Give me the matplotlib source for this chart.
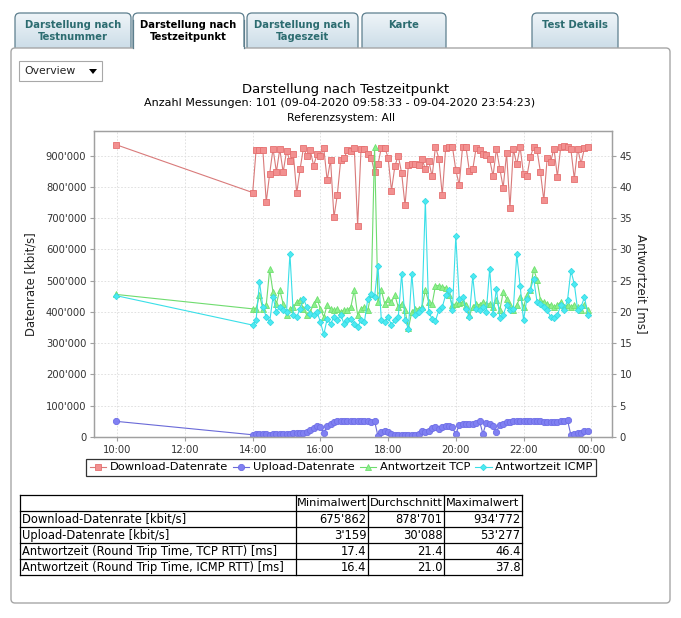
import matplotlib
matplotlib.use("Agg")
import matplotlib.pyplot as plt
import matplotlib.dates as mdates
import matplotlib.ticker as mticker
from matplotlib.patches import FancyBboxPatch, Rectangle, Polygon
from matplotlib.lines import Line2D
import numpy as np
import pandas as pd

plt.rcParams['font.family'] = ['DejaVu Sans']

# ---------------- data ----------------
day = "2020-04-09"
times = ["09:58:33",
 "14:00","14:06","14:12","14:18","14:24","14:30","14:36","14:42","14:48","14:54",
 "15:00","15:06","15:12","15:18","15:24","15:30","15:36","15:42","15:48","15:54",
 "16:00","16:06","16:12","16:18","16:24","16:30","16:36","16:42","16:48","16:54",
 "17:00","17:06","17:12","17:18","17:24","17:30","17:36","17:42","17:48","17:54",
 "18:00","18:06","18:12","18:18","18:24","18:30","18:36","18:42","18:48","18:54",
 "19:00","19:06","19:12","19:18","19:24","19:30","19:36","19:42","19:48","19:54",
 "20:00","20:06","20:12","20:18","20:24","20:30","20:36","20:42","20:48","20:54",
 "21:00","21:06","21:12","21:18","21:24","21:30","21:36","21:42","21:48","21:54",
 "22:00","22:06","22:12","22:18","22:24","22:30","22:36","22:42","22:48","22:54",
 "23:00","23:06","23:12","23:18","23:24","23:30","23:36","23:42","23:48","23:54:23"]

download = [934772,
 782000, 918000, 918000, 918000, 752000, 841000, 923000, 848000, 921000, 847000,
 915000, 883000, 907000, 780000, 857000, 926000, 898000, 917000, 868000, 904000,
 899000, 924000, 821000, 887000, 703000, 775000, 887000, 892000, 918000, 916000,
 925000, 675862, 921000, 921000, 907000, 894000, 847000, 872000, 926000, 926000,
 894000, 788000, 867000, 900000, 844000, 741000, 871000, 872000, 873000, 870000,
 889000, 858000, 883000, 834000, 929000, 890000, 773000, 924000, 927000, 929000,
 854000, 806000, 929000, 928000, 851000, 856000, 925000, 917000, 906000, 901000,
 888000, 835000, 922000, 858000, 798000, 908000, 733000, 921000, 872000, 928000,
 840000, 834000, 896000, 928000, 917000, 847000, 757000, 894000, 880000, 923000,
 833000, 928000, 930000, 928000, 920000, 826000, 923000, 874000, 925000, 928000]

upload = [50000,
 7100, 8200, 8200, 10200, 8200, 7100, 8200, 8200, 9200, 9200,
 10200, 10200, 11200, 12200, 11200, 13300, 15300, 22400, 28600, 33700,
 30600, 14300, 35700, 42800, 48000, 51000, 52000, 52000, 52500, 52500,
 52500, 52500, 52500, 52000, 51500, 46900, 51000, 3159, 16300, 18400,
 16300, 8200, 7100, 6600, 7100, 6100, 7100, 7600, 7100, 8200,
 18400, 16300, 19400, 27500, 32600, 25500, 30600, 33700, 35700, 30600,
 8200, 38800, 40800, 40800, 42800, 40800, 45900, 51000, 10200, 45900,
 40800, 35700, 17300, 38800, 42800, 47900, 49000, 50000, 50000, 50000,
 51000, 51000, 50000, 51000, 51000, 50000, 49000, 49000, 48000, 49000,
 49000, 50000, 52000, 53277, 6100, 9200, 11200, 13300, 18400, 19400]

tcp = [22.8,
 20.5, 20.5, 22.7, 20.5, 21.1, 26.8, 23.2, 21.3, 23.5, 21.3,
 19.5, 20.5, 20.8, 21.6, 21.9, 20.5, 19.5, 20.0, 21.3, 22.1,
 20.5, 19.2, 21.1, 20.5, 20.3, 20.5, 20.0, 20.3, 20.3, 20.8,
 23.5, 19.5, 20.5, 20.8, 20.3, 22.9, 46.4, 21.6, 23.5, 21.3,
 22.1, 21.6, 22.7, 20.8, 21.3, 20.3, 17.4, 20.0, 20.5, 20.5,
 20.8, 23.5, 21.6, 21.3, 24.2, 24.2, 24.0, 23.9, 22.7, 21.1,
 21.3, 21.4, 21.6, 21.1, 19.5, 20.8, 21.3, 21.1, 21.6, 21.3,
 21.3, 20.8, 21.9, 20.3, 23.2, 22.1, 21.1, 20.3, 21.1, 22.4,
 20.8, 22.7, 23.5, 26.9, 25.1, 21.9, 21.6, 21.3, 21.1, 20.8,
 21.1, 21.6, 20.8, 21.1, 20.8, 21.1, 20.8, 20.3, 21.1, 20.3]

icmp = [22.6,
 17.9, 18.7, 24.8, 20.8, 19.2, 18.4, 22.4, 20.0, 20.8, 20.3,
 20.0, 29.3, 19.5, 19.2, 20.5, 22.1, 20.8, 19.7, 19.5, 20.0,
 18.4, 16.4, 18.9, 18.1, 19.2, 18.7, 19.5, 18.1, 18.7, 18.9,
 18.1, 17.6, 18.7, 18.4, 22.1, 22.9, 22.4, 27.4, 18.7, 18.4,
 19.2, 17.9, 18.7, 19.2, 26.1, 18.7, 17.3, 26.1, 19.5, 20.0,
 20.5, 37.8, 20.0, 18.9, 18.6, 20.3, 20.8, 22.7, 23.5, 20.3,
 32.1, 22.1, 22.4, 20.5, 19.2, 25.7, 20.5, 20.3, 20.8, 20.0,
 26.9, 19.7, 23.7, 19.1, 19.5, 21.1, 20.3, 20.5, 29.2, 24.2,
 18.7, 22.1, 23.5, 25.3, 21.6, 21.3, 20.8, 20.3, 19.2, 19.1,
 19.5, 21.1, 20.3, 21.9, 26.6, 24.5, 20.3, 20.8, 22.4, 19.5]

series_names = ["Download-Datenrate", "Upload-Datenrate", "Antwortzeit TCP", "Antwortzeit ICMP"]

tab_labels = ["Darstellung nach\nTestnummer", "Darstellung nach\nTestzeitpunkt",
              "Darstellung nach\nTageszeit", "Karte", "Test Details"]

title = "Darstellung nach Testzeitpunkt"
subtitle1 = "Anzahl Messungen: 101 (09-04-2020 09:58:33 - 09-04-2020 23:54:23)"
subtitle2 = "Referenzsystem: All"

table_cols = ["Minimalwert", "Durchschnitt", "Maximalwert"]
table_rows = ["Download-Datenrate [kbit/s]", "Upload-Datenrate [kbit/s]",
              "Antwortzeit (Round Trip Time, TCP RTT) [ms]",
              "Antwortzeit (Round Trip Time, ICMP RTT) [ms]"]
table_values = [["675'862", "878'701", "934'772"],
                ["3'159", "30'088", "53'277"],
                ["17.4", "21.4", "46.4"],
                ["16.4", "21.0", "37.8"]]

# ---------------- figure ----------------
W, H = 681, 618
fig = plt.figure(figsize=(W / 100, H / 100), dpi=100)
fig.patch.set_facecolor("white")

bg = fig.add_axes([0, 0, 1, 1])
bg.set_xlim(0, W)
bg.set_ylim(H, 0)
bg.axis("off")

# tabs
tab_x = [(15, 131), (133, 244), (247, 358), (362, 446), (532, 618)]
active = 1
gcmap = matplotlib.colors.LinearSegmentedColormap.from_list("g", ["#c6d9e5", "#eef4f8"])
for i, ((x0, x1), lab) in enumerate(zip(tab_x, tab_labels)):
    fc = "white" if i == active else "#d6e4ee"
    p = FancyBboxPatch((x0, 13), x1 - x0, 42, boxstyle="round,pad=0,rounding_size=5",
                       fc=fc, ec="none", lw=0.9, zorder=1)
    bg.add_patch(p)
    if i != active:
        grad = np.linspace(0, 1, 50).reshape(-1, 1)
        im = bg.imshow(grad, extent=(x0, x1, 55, 13), cmap=gcmap,
                       aspect="auto", zorder=1.1, origin="lower")
        im.set_clip_path(p)
    bg.add_patch(FancyBboxPatch((x0, 13), x1 - x0, 42, boxstyle="round,pad=0,rounding_size=5",
                                fc="none", ec="#5d7f8e", lw=0.9, zorder=1.2))
    color = "black" if i == active else "#2c6c70"
    bg.text((x0 + x1) / 2, 31 if "\n" in lab else 25, lab, ha="center", va="center",
            fontsize=7.2, fontweight="bold", color=color, linespacing=1.15, zorder=4)
bg.set_xlim(0, W)
bg.set_ylim(H, 0)

# panel
bg.add_patch(FancyBboxPatch((11, 48), 659, 555, boxstyle="round,pad=0,rounding_size=4",
                            fc="white", ec="#a6a6a6", lw=1.0, zorder=2))
# active tab opening
bg.add_patch(Rectangle((133.6, 47.0), 110.0, 10, fc="white", ec="none", zorder=3))
bg.plot([133, 133], [20, 48], color="#5d7f8e", lw=0.9, zorder=3.5)
bg.plot([244, 244], [20, 48], color="#5d7f8e", lw=0.9, zorder=3.5)

# dropdown
bg.add_patch(Rectangle((19, 61), 83, 20, fc="white", ec="#a8a8a8", lw=0.8, zorder=3))
bg.text(24, 71.5, "Overview", ha="left", va="center", fontsize=7.8, color="#222222", zorder=4)
bg.add_patch(Polygon([[89, 69], [97, 69], [93, 74]], closed=True, fc="black", ec="none", zorder=4))

# titles
bg.text(346, 89, title, ha="center", va="center", fontsize=9.5, zorder=4)
bg.text(340, 103.5, subtitle1, ha="center", va="center", fontsize=8, zorder=4)
bg.text(341, 118, subtitle2, ha="center", va="center", fontsize=7.8, zorder=4)

# ---------------- chart ----------------
t = pd.to_datetime([f"{day} {s}" for s in times], format="mixed")

ax = fig.add_axes([94 / W, 1 - 437 / H, (612 - 94) / W, (437 - 131) / H], zorder=5)
ax2 = ax.twinx()
ax2.set_zorder(6)

ax.plot(t, download, color="#d97a7a", lw=0.8, marker="s", ms=4.3, mfc="#f29090", mec="#e57070", mew=0.6)
ax.plot(t, upload, color="#6a6ad8", lw=0.8, marker="o", ms=4.5, mfc="#8080f2", mec="#6e6ee6", mew=0.6)
ax2.plot(t, tcp, color="#6fdc6f", lw=0.8, marker="^", ms=4.3, mfc="#8cf08c", mec="#70e070", mew=0.6)
ax2.plot(t, icmp, color="#3adfe8", lw=0.8, marker="D", ms=3.2, mfc="#4ceaf2", mec="#36dbe4", mew=0.6)

ax.set_xlim(pd.Timestamp("2020-04-09 09:18:43"), pd.Timestamp("2020-04-10 00:36:50"))
ax.set_ylim(0, 979000)
ax2.set_ylim(0, 48.95)
ax.set_yticks(np.arange(0, 900001, 100000))
ax2.set_yticks(np.arange(0, 46, 5))
ax.yaxis.set_major_formatter(mticker.FuncFormatter(lambda v, p: f"{int(round(v)):,}".replace(",", "'")))
ax.xaxis.set_major_locator(mdates.HourLocator(byhour=[0, 10, 12, 14, 16, 18, 20, 22]))
ax.xaxis.set_major_formatter(mdates.DateFormatter("%H:%M"))

ax.grid(True, color="#dcdcdc", lw=0.6, ls=(0, (2, 2)))
for a in (ax, ax2):
    for s in a.spines.values():
        s.set_color("#a0a0a0")
        s.set_linewidth(0.9)
    a.tick_params(colors="#a0a0a0", labelcolor="#333333", labelsize=7.2, length=3, width=0.8, pad=2.5)
ax.tick_params(axis="x", pad=3)

ax.set_ylabel("Datenrate [kbit/s]", fontsize=8.4, color="#222222")
ax.yaxis.set_label_coords((37 - 94) / 518, 0.5)
ax2.set_ylabel("Antwortzeit [ms]", fontsize=8.6, color="#222222", rotation=270, va="center")
ax2.yaxis.set_label_coords((641 - 94) / 518, 0.5)

# legend
handles = [
    Line2D([], [], color="#d97a7a", lw=0.8, marker="s", ms=4.3, mfc="#f29090", mec="#e57070", mew=0.6),
    Line2D([], [], color="#6a6ad8", lw=0.8, marker="o", ms=4.5, mfc="#8080f2", mec="#6e6ee6", mew=0.6),
    Line2D([], [], color="#6fdc6f", lw=0.8, marker="^", ms=4.3, mfc="#8cf08c", mec="#70e070", mew=0.6),
    Line2D([], [], color="#3adfe8", lw=0.8, marker="D", ms=3.2, mfc="#4ceaf2", mec="#36dbe4", mew=0.6),
]
leg = fig.legend(handles, series_names, loc="center", bbox_to_anchor=(341 / W, 1 - 467.5 / H),
                 ncol=4, frameon=True, fancybox=False, fontsize=8.2, handlelength=1.45,
                 handletextpad=0.3, columnspacing=0.45, borderpad=0.3, borderaxespad=0,
                 numpoints=1)
leg.get_frame().set_edgecolor("black")
leg.get_frame().set_linewidth(0.9)
leg.set_zorder(10)

# ---------------- table ----------------
col_edges = [20, 296, 368, 444, 522]
row_edges = [495, 511, 527, 543, 559, 575]
for y in row_edges:
    bg.plot([col_edges[0], col_edges[-1]], [y, y], color="black", lw=0.9, zorder=4)
for x in col_edges:
    bg.plot([x, x], [row_edges[0], row_edges[-1]], color="black", lw=0.9, zorder=4)
for j, c in enumerate(table_cols):
    bg.text((col_edges[j + 1] + col_edges[j + 2]) / 2, (row_edges[0] + row_edges[1]) / 2 + 0.5, c,
            ha="center", va="center", fontsize=8.2, zorder=5)
for i, r in enumerate(table_rows):
    yc = (row_edges[i + 1] + row_edges[i + 2]) / 2 + 0.5
    bg.text(col_edges[0] + 1.5, yc, r, ha="left", va="center", fontsize=8.3, zorder=5)
    for j, v in enumerate(table_values[i]):
        bg.text(col_edges[j + 2] - 1.5, yc, v, ha="right", va="center", fontsize=8.3, zorder=5)

bg.set_xlim(0, W)
bg.set_ylim(H, 0)
fig.savefig("out.png", dpi=100, facecolor="white")
